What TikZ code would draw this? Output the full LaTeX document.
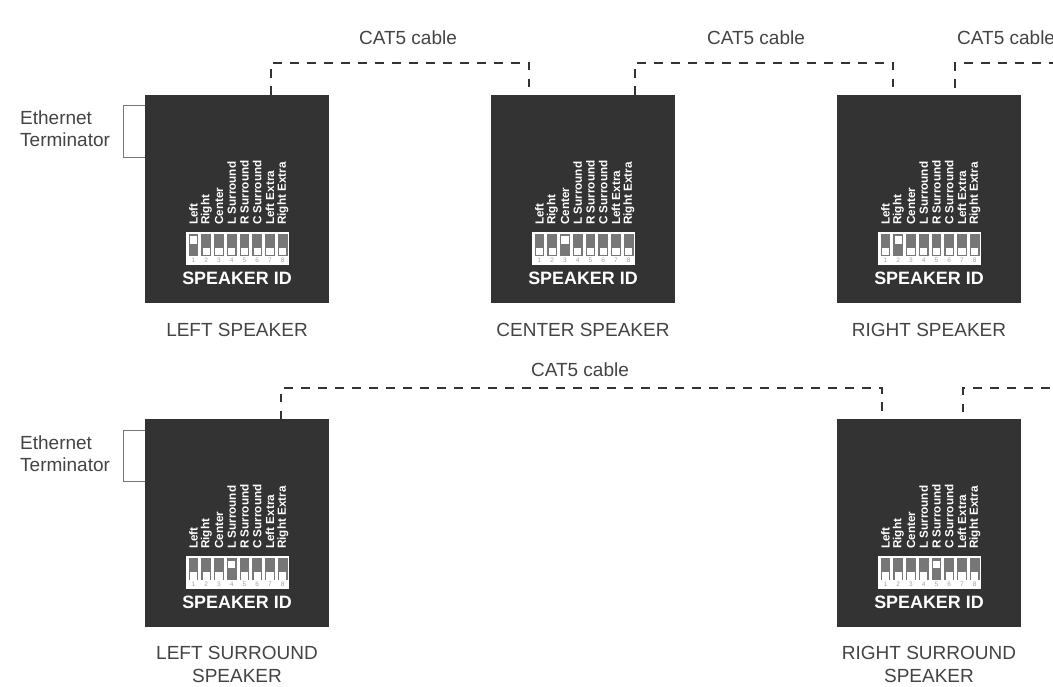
\documentclass[tikz,border=0pt]{standalone}
\usepackage{fontspec}
\setmainfont{Liberation Sans}
\definecolor{panel}{HTML}{333333}
\definecolor{ink}{HTML}{444444}
\definecolor{slot}{HTML}{777777}
\tikzset{
  spk/.style={fill=panel,draw=none,minimum width=184pt,minimum height=208pt,inner sep=0,outer sep=0},
  dip/.style={fill=white,draw=none,minimum width=103pt,minimum height=33pt,inner sep=0,outer sep=0},
  cable/.style={draw=panel,line width=2pt,dash pattern=on 8.5pt off 8.5pt},
  term/.style={draw=slot,line width=0.9pt,fill=white},
  lbl/.style={text=ink,font=\fontsize{19pt}{23pt}\selectfont,align=center,inner sep=0},
  idtxt/.style={text=white,font=\bfseries\fontsize{17.9pt}{20pt}\selectfont,inner sep=0},
  rot/.style={text=white,font=\bfseries\fontsize{11.7pt}{12pt}\selectfont,rotate=90,anchor=west,inner sep=0},
  num/.style={text=slot!70,font=\fontsize{6.5pt}{7pt}\selectfont,inner sep=0},
}
\newcommand{\speakerbox}[4]{% name, left x, top y, active switch
  \node[spk,anchor=north west] (#1) at (#2,#3) {};
  \begin{scope}[shift={(#2,#3)}]
    \node[dip] (#1-dip) at (92.5,153.5) {};
    \node[idtxt] (#1-id) at (92,183) {SPEAKER ID};
    \foreach \i/\t in {1/Left,2/Right,3/Center,4/L Surround,5/R Surround,6/C Surround,7/Left Extra,8/Right Extra}{
      \pgfmathsetmacro{\cx}{48.5+12.75*(\i-1)}
      \node[rot] (#1-t\i) at (\cx,130) {\t};
      \fill[slot] (\cx-4.9,139) rectangle (\cx+4.9,161);
      \ifnum\i=#4
        \fill[white] (\cx-3.6,141.5) rectangle (\cx+3.6,149);
      \else
        \fill[white] (\cx-3.6,153) rectangle (\cx+3.6,160.5);
      \fi
      \node[num] (#1-n\i) at (\cx,165.5) {\i};
    }
  \end{scope}
}
\begin{document}
\begin{tikzpicture}[x=1pt,y=-1pt]
\useasboundingbox (0,0) rectangle (1053,687);
\fill[white] (0,0) rectangle (1053,687);
\clip (0,0) rectangle (1053,687);

% terminators
\coordinate (ta) at (123,105);
\coordinate (tb) at (123,157);
\draw[term] (145,105) -- (ta) -- (tb) -- (145,157);
\coordinate (tc) at (123,430);
\coordinate (td) at (123,481);
\draw[term] (145,430) -- (tc) -- (td) -- (145,481);

\speakerbox{ls}{145}{95}{1}
\speakerbox{cs}{491}{95}{3}
\speakerbox{rs}{837}{95}{2}
\speakerbox{lss}{145}{419}{4}
\speakerbox{rss}{837}{419}{5}

\node[lbl,anchor=west] (et1) at (20,131) {\begin{tabular}{@{}l@{}}Ethernet\\[-0.5pt]Terminator\end{tabular}};
\node[lbl,anchor=west] (et2) at (20,456) {\begin{tabular}{@{}l@{}}Ethernet\\[-0.5pt]Terminator\end{tabular}};

\node[lbl] (l1) at (237,330) {LEFT SPEAKER};
\node[lbl] (l2) at (583,330) {CENTER SPEAKER};
\node[lbl] (l3) at (929,330) {RIGHT SPEAKER};
\node[lbl] (l4) at (237,664) {LEFT SURROUND\\SPEAKER};
\node[lbl] (l5) at (929,664) {RIGHT SURROUND\\SPEAKER};

\node[lbl] (c1) at (408,38) {CAT5 cable};
\node[lbl] (c2) at (756,38) {CAT5 cable};
\node[lbl,anchor=west] (c3) at (957,38) {CAT5 cable};
\node[lbl] (c4) at (580,370) {CAT5 cable};

% cables
\coordinate (a1) at (271,95);
\coordinate (a2) at (529,95);
\coordinate (b1) at (635,95);
\coordinate (b2) at (893,95);
\coordinate (d1) at (955,88);
\coordinate (d2) at (1053,63);
\coordinate (d3) at (1053,388);
\coordinate (e1) at (281,419);
\coordinate (e2) at (882,419);
\coordinate (f1) at (963,412);
\draw[cable] (a1) |- (a2 |- 0,63) -- (a2);
\draw[cable] (b1) |- (b2 |- 0,63) -- (b2);
\draw[cable] (d1) |- (d2);
\draw[cable] (e1) |- (e2 |- 0,388) -- (e2);
\draw[cable] (f1) |- (d3);
\end{tikzpicture}
\end{document}
